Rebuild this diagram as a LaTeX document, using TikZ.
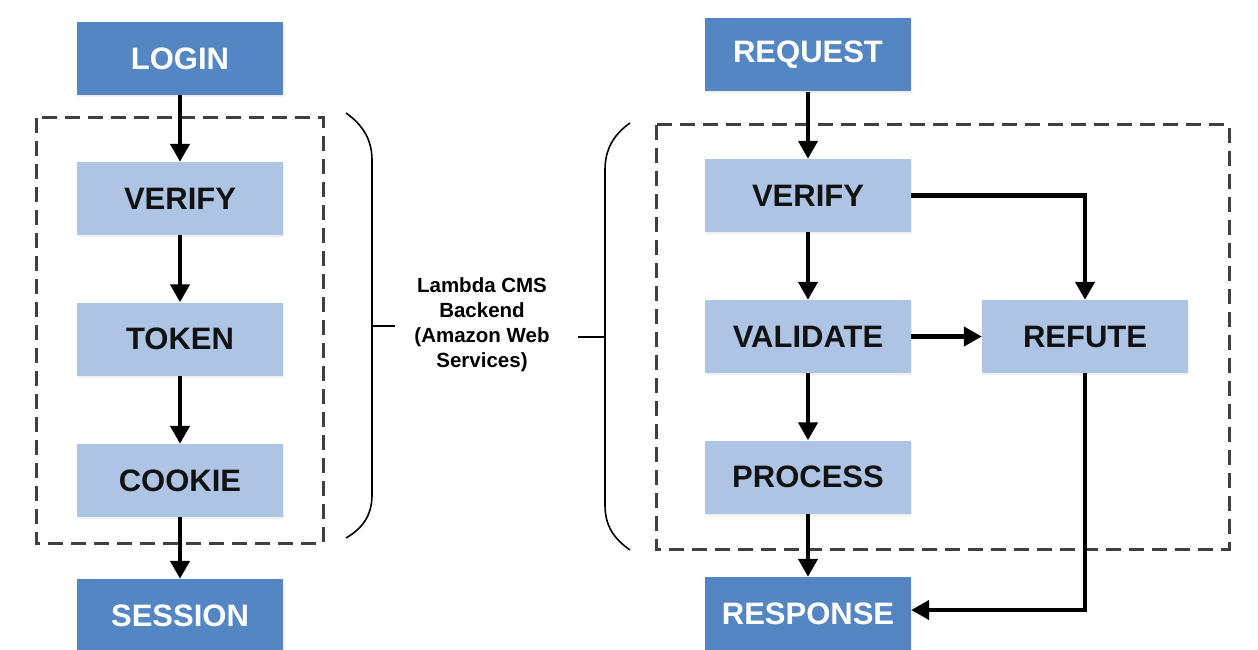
\documentclass[tikz,border=0pt]{standalone}
\usepackage{fontspec}
\setmainfont{Liberation Sans}
\usepackage{tikz}
\usetikzlibrary{arrows.meta, shadows}
\definecolor{stepdark}{RGB}{85,134,196}
\definecolor{steplight}{RGB}{174,196,228}
\definecolor{dashgray}{RGB}{64,64,64}
\tikzset{
  endbox/.style={fill=stepdark, text=white, minimum width=206pt, minimum height=73pt,
    font=\fontsize{31}{37}\selectfont\bfseries, drop shadow={opacity=0.12, shadow xshift=1pt, shadow yshift=-2pt}},
  stepbox/.style={endbox, fill=steplight, text=black!93},
  flow/.style={line width=4.3pt, -{Triangle[width=19pt,length=18pt]}},
  groupbox/.style={dashgray, line width=3pt, dash pattern=on 15pt off 8pt},
  bracket/.style={line width=1.6pt}
}
\begin{document}
\begin{tikzpicture}[x=1pt, y=-1pt]
\useasboundingbox (0,0) rectangle (1258,650);

% login chain
\node[endbox] (login) at (180,58.5) {LOGIN};
\node[stepbox] (lverify) at (180,198.5) {VERIFY};
\node[stepbox] (token) at (180,339) {TOKEN};
\node[stepbox] (cookie) at (180,480.5) {COOKIE};
\node[endbox] (session) at (180,615.5) {SESSION};
\draw[groupbox] (36,118) rectangle (323,543);
\draw[flow] (login) -- (lverify);
\draw[flow] (lverify) -- (token);
\draw[flow] (token) -- (cookie);
\draw[flow] (cookie) -- (session);

% request chain
\node[endbox] (request) at (808,55) {REQUEST};
\node[stepbox] (rverify) at (808,195.5) {VERIFY};
\node[stepbox] (validate) at (808,336.5) {VALIDATE};
\node[stepbox] (refute) at (1085,336.5) {REFUTE};
\node[stepbox] (process) at (808,477) {PROCESS};
\node[endbox] (response) at (808,613.5) {RESPONSE};
\draw[groupbox] (656,125) rectangle (1229,549);
\draw[flow] (request) -- (rverify);
\draw[flow] (rverify) -- (validate);
\draw[flow] (validate) -- (process);
\draw[flow] (process) -- (response);
\draw[flow] (validate) -- (refute);
\draw[flow] (rverify.east) -| (refute.north);
\draw[flow] (refute.south) |- ([yshift=3.5pt]response.east);

% backend label between the brackets
\node[align=center, font=\fontsize{20.5}{25}\selectfont\bfseries] (backend) at (482,325)
  {Lambda CMS\\Backend\\(Amazon Web\\Services)};
\draw[bracket] (346,113) .. controls (363,125) and (372,140) .. (372,160) -- (372,495)
  .. controls (372,515) and (363,528) .. (346,538);
\draw[bracket] (372,326) -- (395,326);
\draw[bracket] (630,123) .. controls (613,135) and (605,150) .. (605,170) -- (605,505)
  .. controls (605,525) and (613,538) .. (630,550);
\draw[bracket] (578,337) -- (605,337);
\end{tikzpicture}
\end{document}
